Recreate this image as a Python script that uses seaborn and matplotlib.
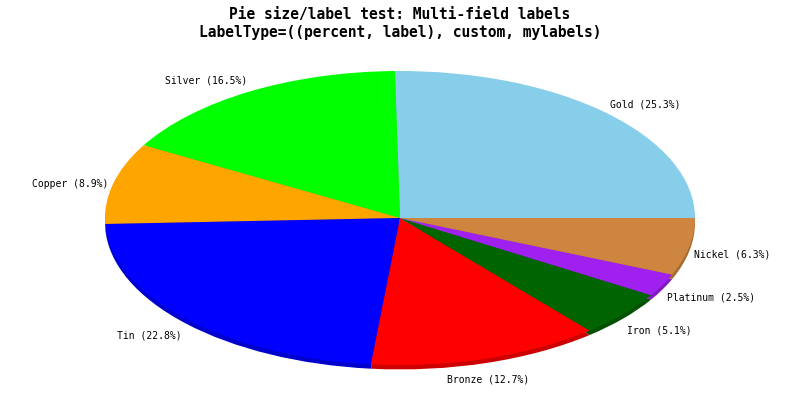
"""
Pie size/label test - flat pie squashed into an ellipse with a small drop shadow
"""

import numpy as np
import matplotlib
matplotlib.use("Agg")
import matplotlib.pyplot as plt
import seaborn as sns
from matplotlib.colors import to_rgb

# Data
metals = ["Gold", "Silver", "Copper", "Tin", "Bronze", "Iron", "Platinum", "Nickel"]
shares = [25.3, 16.5, 8.9, 22.8, 12.7, 5.1, 2.5, 6.3]
slice_colors = ["#87CEEB", "#00FF00", "#FFA500", "#0000FF",
                "#FF0000", "#006400", "#A020F0", "#CD853F"]
title_lines = ["Pie size/label test: Multi-field labels",
               "LabelType=((percent, label), custom, mylabels)"]

sns.set_theme(style="white")
plt.rcParams["font.family"] = ["DejaVu Sans Mono", "DejaVu Sans"]
plt.rcParams["text.color"] = "black"

fig = plt.figure(figsize=(8, 4), dpi=100)
fig.patch.set_facecolor("white")

# axes box == bounding box of the ellipse (pixels 105..695 x 71..365)
ax = fig.add_axes([105 / 800, 35 / 400, 590 / 800, 294 / 400])

# shadow layer, darker colours, shifted down a few pixels
dark = [tuple(c * 0.8 for c in to_rgb(col)) for col in slice_colors]
shadow, _ = ax.pie(shares, colors=dark, startangle=0, counterclock=True,
                   radius=1.0, center=(0, -0.03), frame=True,
                   wedgeprops={"linewidth": 0, "edgecolor": "none"})
for w in shadow:
    w.set_clip_on(False)

wedges, _ = ax.pie(shares, colors=slice_colors, startangle=0, counterclock=True,
                   radius=1.0, center=(0, 0), frame=True,
                   wedgeprops={"linewidth": 0, "edgecolor": "none"})
for w in wedges:
    w.set_clip_on(False)

ax.set_xlim(-1, 1)
ax.set_ylim(-1, 1)
ax.set_aspect("auto")
ax.axis("off")

# labels sit just outside the ellipse at the middle angle of each slice
total = sum(shares)
for w, name, val in zip(wedges, metals, shares):
    mid = np.deg2rad((w.theta1 + w.theta2) / 2)
    cx, cy = np.cos(mid), np.sin(mid)
    if cx > 0.4:
        ha = "left"
    elif cx < -0.4:
        ha = "right"
    else:
        ha = "center"
    ax.text(1.017 * cx, 1.12 * cy - 0.03, f"{name} ({val / total * 100:.1f}%)",
            ha=ha, va="center", fontsize=7, color="black", clip_on=False)

fig.text(0.5, 1 - 14 / 400, title_lines[0], ha="center", va="center",
         fontsize=10.5, fontweight="bold", color="black")
fig.text(0.5, 1 - 33 / 400, title_lines[1], ha="center", va="center",
         fontsize=10.5, fontweight="bold", color="black")

fig.savefig("out.png", dpi=100, facecolor="white")
